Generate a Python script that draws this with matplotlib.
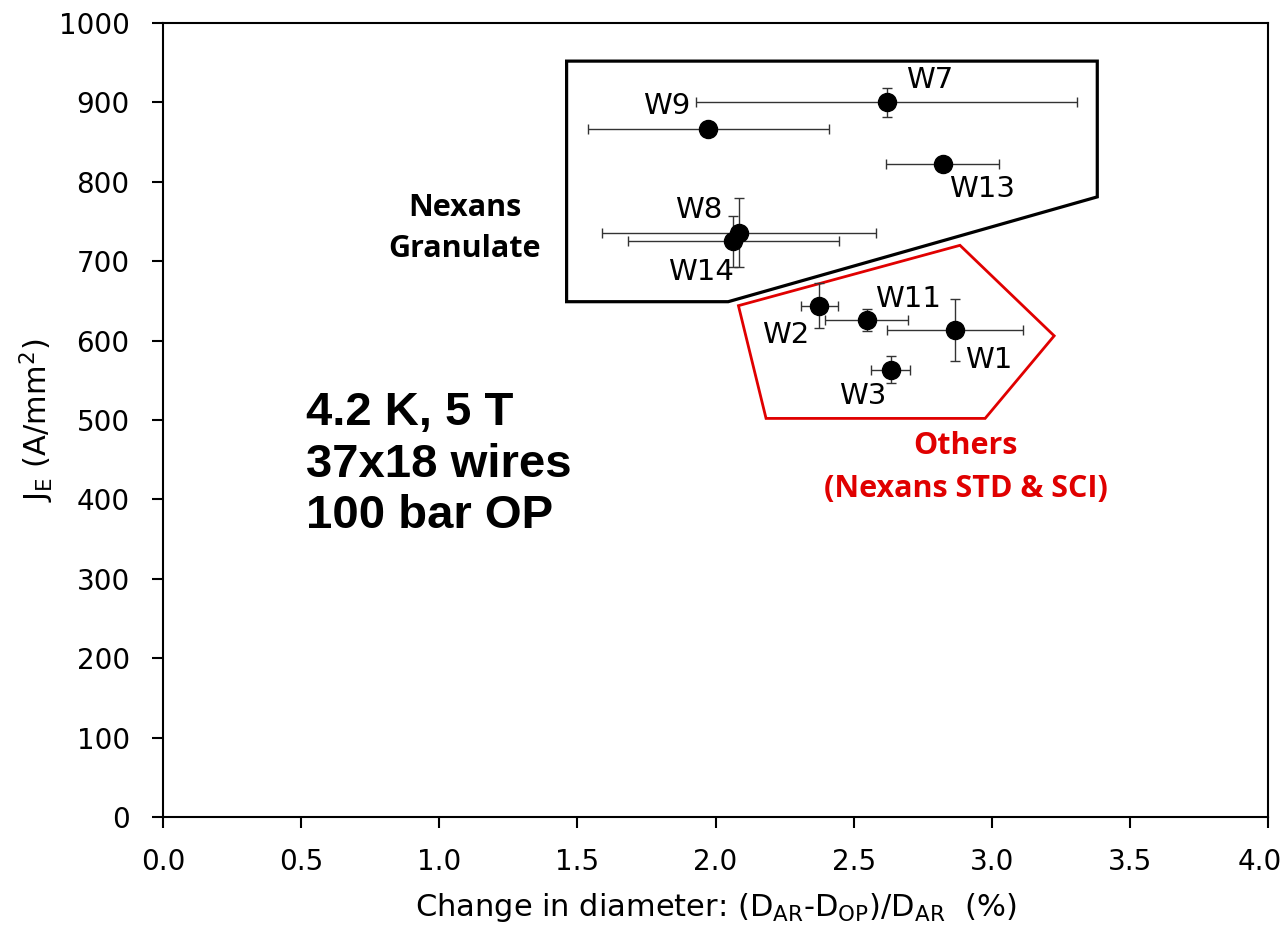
import matplotlib
matplotlib.use("Agg")
import matplotlib.pyplot as plt
from matplotlib.patches import Polygon
from matplotlib.transforms import ScaledTranslation
import numpy as np

# wire samples: change in diameter (%) vs engineering current density
names = ["W1", "W2", "W3", "W7", "W8", "W9", "W11", "W13", "W14"]
dd = [2.867, 2.376, 2.634, 2.620, 2.085, 1.974, 2.547, 2.822, 2.065]
je = [613, 644, 563, 900, 736, 867, 626, 822, 725]
dd_err = [0.245, 0.067, 0.070, 0.690, 0.497, 0.437, 0.150, 0.203, 0.381]
je_err = [39, 28, 17, 18, 43, 7, 14, 2, 32]

# label offsets (points) and alignment for each wire label
lab_off = [(7, -11), (-7, -11), (-3, -9), (14, 6), (-12, 6), (-13, 6), (6, 5), (5, -8), (0, -12)]
lab_ha = ["left", "right", "right", "left", "right", "right", "left", "left", "right"]
lab_va = ["top", "top", "top", "bottom", "bottom", "bottom", "bottom", "top", "top"]

# group outlines (hand drawn on the original slide)
granulate_x = [1.461, 3.382, 3.382, 2.046, 1.461]
granulate_y = [952, 952, 781, 649, 649]
others_x = [2.083, 2.885, 3.226, 2.976, 2.183]
others_y = [644, 720, 606, 502, 502]

red = "#e00000"

fig = plt.figure(figsize=(12.86, 9.3), dpi=100)
ax = fig.add_axes([163 / 1286, 113 / 930, 1105 / 1286, 794 / 930])

ax.errorbar(dd, je, xerr=dd_err, yerr=je_err, fmt="o", color="black",
            ms=13, ecolor="#333333", elinewidth=1.0, capsize=3.5, capthick=1.0,
            zorder=3)

for n, x, y, off, ha, va in zip(names, dd, je, lab_off, lab_ha, lab_va):
    ax.annotate(n, (x, y), xytext=off, textcoords="offset points",
                ha=ha, va=va, fontsize=21)

ax.add_patch(Polygon(np.column_stack([granulate_x, granulate_y]), closed=True,
                     fill=False, edgecolor="black", lw=2.3, zorder=2))
ax.add_patch(Polygon(np.column_stack([others_x, others_y]), closed=True,
                     fill=False, edgecolor=red, lw=2.0, zorder=2))

ax.text(1.093, 741, "Nexans\nGranulate", ha="center", va="center",
        fontsize=22, fontweight="bold", family="Open Sans", linespacing=1.45)
ax.text(2.905, 440, "Others\n(Nexans STD & SCI)", ha="center", va="center",
        fontsize=22, fontweight="bold", family="Open Sans", color=red,
        linespacing=1.55)
ax.text(0.518, 536, "4.2 K, 5 T\n37x18 wires\n100 bar OP", ha="left", va="top",
        fontsize=34, fontweight="bold", family="Liberation Sans", linespacing=1.22)

ax.set_xlim(0, 4)
ax.set_ylim(0, 1000)
ax.set_xticks(np.arange(0, 4.01, 0.5))
ax.set_yticks(np.arange(0, 1001, 100))
ax.set_xticklabels(["%.1f" % t for t in np.arange(0, 4.01, 0.5)])
ax.tick_params(direction="out", length=8, width=1.5, labelsize=20)
ax.tick_params(axis="x", pad=14)
ax.tick_params(axis="y", pad=16)
for s in ax.spines.values():
    s.set_linewidth(1.5)

# keep the last x tick label inside the canvas
last = ax.get_xticklabels()[-1]
last.set_transform(last.get_transform() + ScaledTranslation(-6 / 72, 0, fig.dpi_scale_trans))

ax.set_xlabel(r"Change in diameter: (D$_\mathrm{AR}$-D$_\mathrm{OP}$)/D$_\mathrm{AR}$  (%)",
              fontsize=22, labelpad=11)
ax.set_ylabel(r"J$_\mathrm{E}$ (A/mm$^2$)", fontsize=22, labelpad=2)

plt.savefig("out.png", dpi=100)
